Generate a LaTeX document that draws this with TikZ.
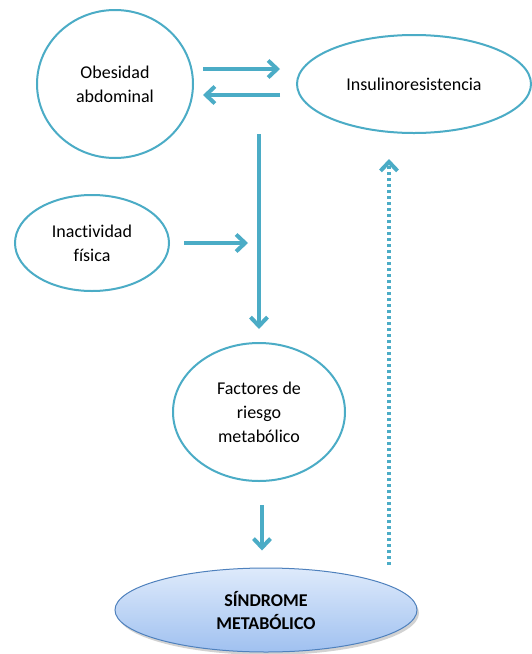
\documentclass[tikz,border=0pt]{standalone}
\usepackage{fontspec}
\setmainfont{Carlito}[Ligatures=NoCommon]
\usetikzlibrary{arrows.meta,shadows,shapes.geometric}

\definecolor{tealline}{RGB}{75,172,198}
\definecolor{sindline}{RGB}{79,129,189}
\definecolor{sindtop}{RGB}{222,234,251}
\definecolor{sindbot}{RGB}{160,193,240}

\tikzset{
  bubble/.style={ellipse,draw=tealline,line width=2pt,align=center,
    font=\fontsize{18}{24}\selectfont,inner sep=0pt},
  arr/.style={draw=tealline,line width=4pt,
    -{Straight Barb[length=9pt,width=17pt]}},
  dotarr/.style={arr,dash pattern=on 3pt off 3pt},
}

\begin{document}
\begin{tikzpicture}[x=1pt,y=-1pt]
  \useasboundingbox[fill=white] (0,0) rectangle (532,654);
  % bubbles
  \node[bubble,minimum width=156pt,minimum height=148pt] (obes) at (115,84) {Obesidad\\abdominal};
  \node[bubble,minimum width=234pt,minimum height=98pt] (insul) at (414,84) {Insulinoresistencia};
  \node[bubble,minimum width=154pt,minimum height=96pt] (inact) at (92,243) {Inactividad\\física};
  \node[bubble,minimum width=172pt,minimum height=138pt] (factores) at (259,412) {Factores de\\riesgo\\metabólico};
  \node[ellipse,draw=sindline,line width=1pt,top color=sindtop,bottom color=sindbot,
    drop shadow={opacity=0.35,shadow xshift=2pt,shadow yshift=-3pt},
    minimum width=302pt,minimum height=84pt,align=center,
    font=\fontsize{18}{23}\selectfont\bfseries] (sindrome) at (266,610) {SÍNDROME\\METABÓLICO};
  % connectors
  \draw[arr,shorten <=9pt,shorten >=16pt] ([yshift=15pt]obes.east) -- ([yshift=15pt]obes.east -| insul.west);
  \draw[arr,shorten <=16pt,shorten >=9pt] ([yshift=-11pt]insul.west) -- ([yshift=-11pt]insul.west -| obes.east);
  \draw[arr,shorten >=13pt] (factores.north |- insul.south) -- (factores.north);
  \draw[arr,shorten <=14pt,shorten >=11pt] (inact.east) -- (inact.east -| factores.north);
  \draw[arr,shorten <=23pt,shorten >=17pt] ([xshift=3pt]factores.south) -- ([xshift=3pt]factores.south |- sindrome.north);
  \coordinate (dotbase) at (389,565);
  \draw[dotarr,shorten >=25pt] (dotbase) -- (dotbase |- insul.south);
\end{tikzpicture}
\end{document}
